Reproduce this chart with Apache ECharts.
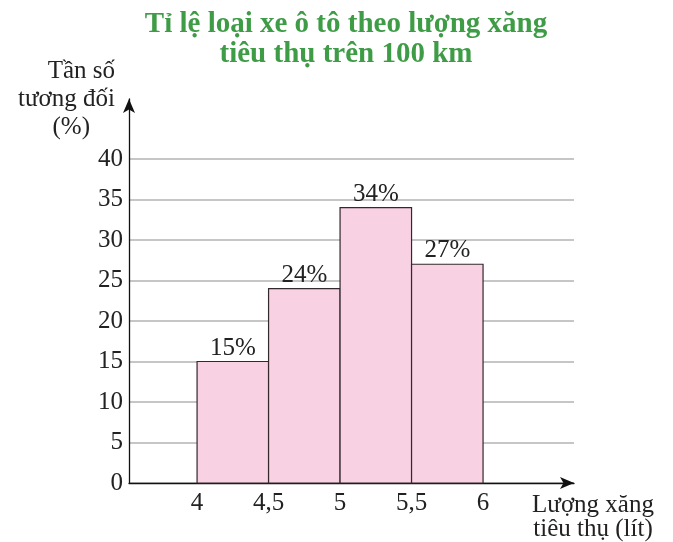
<!DOCTYPE html>
<html>
<head>
<meta charset="utf-8">
<script src="https://cdn.jsdelivr.net/npm/echarts@6/dist/echarts.min.js"></script>
<style>html,body{margin:0;padding:0;background:#fff}#c{width:673px;height:542px}</style>
</head>
<body>
<div id="c"></div>
<script>
const titleText = 'Tỉ lệ loại xe ô tô theo lượng xăng\ntiêu thụ trên 100 km';
const yAxisName = 'Tần số\ntương đối\n(%)    ';
const xAxisName = 'Lượng xăng\ntiêu thụ (lít)';
const binStarts = [4, 4.5, 5, 5.5];
const binEnds = [4.5, 5, 5.5, 6];
const percents = [15, 24, 34, 27];
const xTickValues = [4, 4.5, 5, 5.5, 6];
const yTickValues = [0, 5, 10, 15, 20, 25, 30, 35, 40];

const serif = '"Liberation Serif", "DejaVu Serif", serif';
const data = binStarts.map((s, i) => [s, binEnds[i], percents[i]]);

const chart = echarts.init(document.getElementById('c'), null, {renderer: 'canvas'});
chart.setOption({
  animation: false,
  backgroundColor: '#ffffff',
  title: {
    text: titleText,
    left: 341,
    top: 5,
    textAlign: 'center',
    textStyle: {fontFamily: serif, fontWeight: 'bold', fontSize: 29, lineHeight: 30, color: '#3f9c46'}
  },
  grid: {left: 129, right: 99, top: 99, bottom: 59, containLabel: false},
  xAxis: {
    type: 'value', min: 3.524, max: 6.636,
    name: xAxisName, nameLocation: 'end', nameGap: 19,
    nameTextStyle: {fontFamily: serif, fontSize: 25, lineHeight: 24, color: '#222', align: 'center', verticalAlign: 'top', padding: [10, 0, 0, 0]},
    axisLine: {show: true, symbol: ['none', 'arrow'], symbolSize: [9, 14], lineStyle: {color: '#111', width: 1.3}},
    axisTick: {show: false, customValues: xTickValues},
    axisLabel: {customValues: xTickValues, margin: 8, fontFamily: serif, fontSize: 25, color: '#222',
      formatter: v => String(v).replace('.', ',')},
    splitLine: {show: false}
  },
  yAxis: {
    type: 'value', min: 0, max: 47.4,
    name: yAxisName, nameLocation: 'end', nameGap: 0,
    nameTextStyle: {fontFamily: serif, fontSize: 25, lineHeight: 28, color: '#222', align: 'right', verticalAlign: 'middle', padding: [0, 14, 0, 0]},
    axisLine: {show: true, symbol: ['none', 'arrow'], symbolSize: [9, 14], lineStyle: {color: '#111', width: 1.3}},
    axisTick: {show: false, customValues: yTickValues},
    axisLabel: {customValues: yTickValues, margin: 6, fontFamily: serif, fontSize: 25, color: '#222'},
    splitLine: {show: true, lineStyle: {color: '#b3b3b3', width: 1.5}}
  },
  series: [{
    type: 'custom',
    data: data,
    encode: {x: [0, 1], y: 2},
    renderItem: function (params, api) {
      const p0 = api.coord([api.value(0), api.value(2)]);
      const p1 = api.coord([api.value(1), 0]);
      return {
        type: 'group',
        children: [{
          type: 'rect',
          shape: {x: p0[0], y: p0[1], width: p1[0] - p0[0], height: p1[1] - p0[1]},
          style: {fill: '#f8d1e3', stroke: '#33282c', lineWidth: 1.2}
        }, {
          type: 'text',
          x: (p0[0] + p1[0]) / 2, y: p0[1] - 1,
          style: {text: api.value(2) + '%', textAlign: 'center', textVerticalAlign: 'bottom',
            font: '25px ' + serif, fill: '#222'}
        }]
      };
    }
  }]
});
</script>
</body>
</html>
